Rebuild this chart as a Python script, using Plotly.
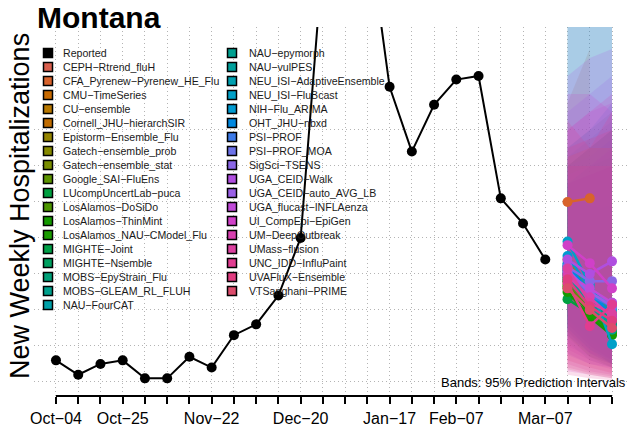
import plotly.graph_objects as go

weeks = ["2025-10-04", "2025-10-11", "2025-10-18", "2025-10-25", "2025-11-01", "2025-11-08",
         "2025-11-15", "2025-11-22", "2025-11-29", "2025-12-06", "2025-12-13", "2025-12-20",
         "2025-12-27", "2026-01-03", "2026-01-10", "2026-01-17", "2026-01-24", "2026-01-31",
         "2026-02-07", "2026-02-14", "2026-02-21", "2026-02-28", "2026-03-07", "2026-03-14",
         "2026-03-21", "2026-03-28"]
tick_labels = ["Oct−04", "", "", "Oct−25", "", "", "", "Nov−22", "", "", "", "Dec−20", "", "", "",
               "Jan−17", "", "", "Feb−07", "", "", "", "Mar−07", "", "", ""]
reported = [32, 24, 30, 32, 22, 22, 34, 28, 46, 52, 68, 100, 256, 293, 275, 184, 148, 174,
            188, 190, 122, 108, 88]
forecast_weeks = ["2026-03-14", "2026-03-21", "2026-03-28"]

models = ["CEPH−Rtrend_fluH", "CFA_Pyrenew−Pyrenew_HE_Flu", "CMU−TimeSeries", "CU−ensemble",
          "Cornell_JHU−hierarchSIR", "Epistorm−Ensemble_Flu", "Gatech−ensemble_prob",
          "Gatech−ensemble_stat", "Google_SAI−FluEns", "LUcompUncertLab−puca", "LosAlamos−DoSiDo",
          "LosAlamos−ThinMint", "LosAlamos_NAU−CModel_Flu", "MIGHTE−Joint", "MIGHTE−Nsemble",
          "MOBS−EpyStrain_Flu", "MOBS−GLEAM_RL_FLUH", "NAU−FourCAT", "NAU−epymorph", "NAU−vulPES",
          "NEU_ISI−AdaptiveEnsemble", "NEU_ISI−FluBcast", "NIH−Flu_ARIMA", "OHT_JHU−nbxd",
          "PSI−PROF", "PSI−PROF_MOA", "SigSci−TSENS", "UGA_CEID−Walk", "UGA_CEID−auto_AVG_LB",
          "UGA_flucast−INFLAenza", "UI_CompEpi−EpiGen", "UM−DeepOutbreak", "UMass−flusion",
          "UNC_IDD−InfluPaint", "UVAFluX−Ensemble", "VTSanghani−PRIME"]
model_colors = ["#d95f4e", "#d8632c", "#c86a00", "#b87800", "#c06c00", "#948400", "#868a00",
                "#7a8e00", "#5c9400", "#00a040", "#4c9600", "#149a00", "#1a9c00", "#00a048",
                "#00a060", "#00a078", "#00a08c", "#00a0a8", "#00a090", "#00a09c", "#00a0b0",
                "#00a0c8", "#009ad0", "#0088e0", "#3c7ae8", "#6c72e8", "#8a66e6", "#b04ee0",
                "#9a60e6", "#c04ad8", "#d040c8", "#d840b0", "#dc40a0", "#e03c90", "#e03c80",
                "#dc4c6c"]

median_wk1 = [80, 120, 84, 88, 78, 76, 82, 80, 74, 66, 72, 70, 73, 76, 78, 80, 77, 86, 82, 79,
              84, 98, 90, 85, 83, 81, 84, 88, 82, 80, 96, 79, 83, 75, 77, 72]
median_wk2 = [70, 122, 66, 72, 64, 62, 68, 67, 60, 58, 60, 56, 58, 63, 65, 66, 62, 70, 67, 64,
              69, 74, 72, 70, 68, 69, 76, 80, 70, 72, 86, 67, 64, 51, 62, 60]
median_wk3 = [62, None, 55, 58, 52, 50, 57, 56, 48, 49, 50, 46, 47, 52, 54, 53, 49, 58, 55, 51,
              56, 41, 60, 57, 62, 64, 76, 87, 62, 64, 72, 56, 58, 63, 54, 50]
lower_wk1 = [55, 85, 60, 56, 50, 52, 55, 58, 48, 45, 52, 56, 46, 55, 56, 50, 50, 48, 42, 50,
             55, 52, 50, 46, 48, 46, 35, 38, 40, 36, 26, 30, 28, 24, 32, 27]
lower_wk2 = [42, 78, 44, 42, 38, 40, 42, 46, 36, 34, 40, 44, 34, 44, 44, 38, 38, 38, 32, 38,
             42, 40, 38, 36, 36, 36, 30, 32, 34, 30, 24, 26, 25, 22, 28, 24]
lower_wk3 = [36, None, 36, 34, 30, 32, 34, 38, 30, 30, 32, 36, 28, 38, 36, 30, 30, 32, 28, 32,
             36, 30, 32, 30, 30, 32, 28, 28, 30, 27, 22, 24, 23, 21, 25, 22]
upper_wk1 = [125, 175, 118, 130, 140, 125, 130, 120, 140, 150, 122, 110, 135, 120, 122, 140,
             130, 145, 235, 140, 130, 225, 150, 140, 130, 135, 245, 190, 170, 160, 180, 160,
             140, 165, 150, 145]
upper_wk2 = [130, 205, 112, 135, 150, 130, 140, 115, 150, 160, 125, 100, 140, 118, 120, 150,
             140, 155, 260, 150, 135, 250, 160, 145, 135, 140, 230, 200, 180, 170, 180, 170,
             140, 150, 155, 150]
upper_wk3 = [135, None, 110, 140, 160, 135, 150, 118, 160, 170, 128, 95, 145, 115, 118, 160,
             150, 165, 290, 160, 140, 270, 175, 155, 140, 150, 220, 205, 190, 175, 170, 180,
             140, 170, 160, 150]

y_grid = [20, 40, 60, 80, 100, 120, 140, 160]

FONT = "Liberation Sans, Arial, Helvetica, sans-serif"
L, R, T, B, W, H = 34, 0, 27, 35, 629, 431
PW, PH = W - L - R, H - T - B


def paper(px, py):
    return (px - L) / PW, (H - B - py) / PH


def rgba(hex_color, a):
    h = hex_color.lstrip("#")
    return f"rgba({int(h[0:2], 16)},{int(h[2:4], 16)},{int(h[4:6], 16)},{a})"


fig = go.Figure()

# prediction bands
for i, m in enumerate(models):
    lo = [lower_wk1[i], lower_wk2[i], lower_wk3[i]]
    up = [upper_wk1[i], upper_wk2[i], upper_wk3[i]]
    keep = [k for k in range(3) if lo[k] is not None]
    xs = [forecast_weeks[k] for k in keep]
    fig.add_trace(go.Scatter(x=xs + xs[::-1], y=[up[k] for k in keep] + [lo[k] for k in keep][::-1],
                             fill="toself", fillcolor=rgba(model_colors[i], 0.17),
                             line=dict(width=0), mode="lines", hoverinfo="skip", showlegend=False))

# reported
fig.add_trace(go.Scatter(x=weeks[:len(reported)], y=reported, mode="lines+markers", name="Reported",
                         line=dict(color="black", width=2), marker=dict(color="black", size=10),
                         showlegend=False))

# medians
for i, m in enumerate(models):
    fig.add_trace(go.Scatter(x=forecast_weeks, y=[median_wk1[i], median_wk2[i], median_wk3[i]],
                             mode="lines+markers", name=m, line=dict(color=model_colors[i], width=2.5),
                             marker=dict(color=model_colors[i], size=10), showlegend=False))

# hand-built two-column legend
shapes, annotations = [], []
entries = ["Reported"] + models
colors = ["#000000"] + model_colors
for i, (name, col) in enumerate(zip(entries, colors)):
    c, r = (0, i) if i < 19 else (1, i - 19)
    sx, tx = (48, 62) if c == 0 else (232, 248)
    py = 53 + r * 14
    x0, y0 = paper(sx - 4.5, py + 4.5)
    x1, y1 = paper(sx + 4.5, py - 4.5)
    shapes.append(dict(type="rect", xref="paper", yref="paper", x0=x0, x1=x1, y0=y0, y1=y1,
                       fillcolor=col, line=dict(color="black", width=1.5)))
    ax, ay = paper(tx, py)
    annotations.append(dict(text=name, x=ax, y=ay, xref="paper", yref="paper", xanchor="left",
                            yanchor="middle", showarrow=False, borderpad=0,
                            font=dict(size=10.6, color="#1a1a1a", family=FONT)))

# R-style x axis line between first and last tick
shapes.append(dict(type="line", xref="x", yref="paper", x0=weeks[0], x1=weeks[-1], y0=0, y1=0,
                   line=dict(color="black", width=2)))

tx, ty = paper(35, 18)
annotations.append(dict(text="<b>Montana</b>", x=tx, y=ty, xref="paper", yref="paper",
                        xanchor="left", yanchor="middle", showarrow=False,
                        font=dict(size=30, color="black", family=FONT)))
yx, yy = paper(20, 206)
annotations.append(dict(text="New Weekly Hospitalizations", x=yx, y=yy, xref="paper", yref="paper",
                        xanchor="center", yanchor="middle", textangle=-90, showarrow=False,
                        font=dict(size=27, color="black", family=FONT)))
bx, by = paper(628, 382)
annotations.append(dict(text="Bands: 95% Prediction Intervals", x=bx, y=by, xref="paper",
                        yref="paper", xanchor="right", yanchor="middle", showarrow=False,
                        font=dict(size=13, color="black", family=FONT)))

fig.update_layout(
    width=W, height=H, margin=dict(l=L, r=R, t=T, b=B),
    plot_bgcolor="white", paper_bgcolor="white", showlegend=False,
    shapes=shapes, annotations=annotations,
    xaxis=dict(type="date", range=["2025-09-27 02:00", "2026-04-02 08:24"],
               tickvals=weeks, ticktext=tick_labels, ticks="outside", ticklen=7, tickwidth=2,
               tickcolor="black", showline=False, zeroline=False,
               showgrid=True, gridcolor="#b4b4b4", griddash="1px,3px", gridwidth=1,
               tickfont=dict(size=16, color="black", family=FONT), ticklabelstandoff=1),
    yaxis=dict(range=[12.2, 217.2], tickvals=y_grid, showticklabels=False, ticks="",
               showline=False, zeroline=False,
               showgrid=True, gridcolor="#b4b4b4", griddash="1px,3px", gridwidth=1),
)

fig.write_html("out.html", config={"displayModeBar": False},
               post_script="document.body.style.margin='0';")
